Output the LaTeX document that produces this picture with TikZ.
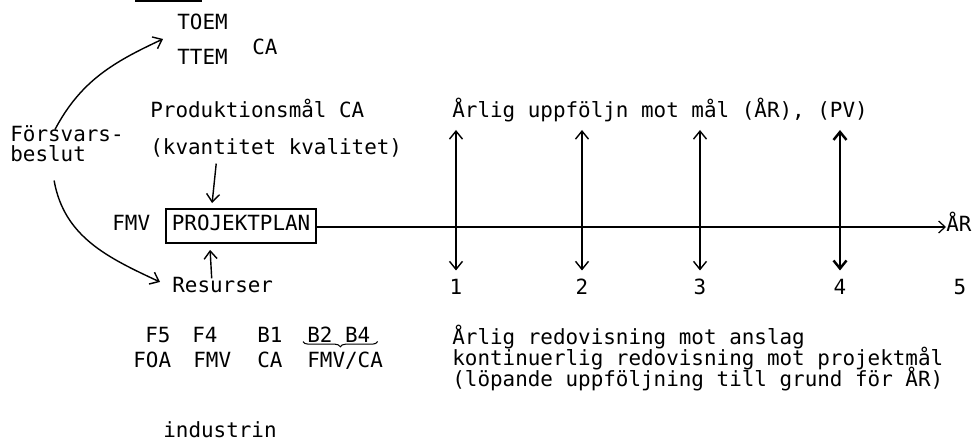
\documentclass[tikz,border=0pt]{standalone}
\usepackage{fontspec}
\newfontfamily\typew{DejaVu Sans Mono}
\usepackage{tikz}
\usetikzlibrary{arrows.meta, positioning, decorations.pathreplacing}

\tikzset{
  txt/.style={font=\typew\fontsize{11.9}{14}\selectfont, inner sep=0pt, anchor=west,
              text height=1.6ex, text depth=0.3ex},
  arr/.style={-{Straight Barb[length=1.6mm,width=2.6mm]}, line width=0.8pt},
  dbl/.style={{Straight Barb[length=1.6mm,width=2.6mm]}-{Straight Barb[length=1.6mm,width=2.6mm]},
              line width=0.8pt},
  axis/.style={-{Straight Barb[length=1.3mm,width=2.4mm]}, line width=0.7pt},
  planbox/.style={txt, draw, line width=1pt, inner xsep=0.12cm, minimum height=0.68cm},
}

\begin{document}
\begin{tikzpicture}[x=0.02cm, y=-0.02cm]
  \useasboundingbox (0,0) rectangle (977,448);
  \draw[line width=0.7pt] (135,1) -- (202,1);

  % left side
  \node[txt] (toem) at (177,25) {TOEM};
  \node[txt] (ttem) at (177,60) {TTEM};
  \node[txt] (ca) at (252,50) {CA};
  \node[txt] (prod) at (150,113) {Produktionsmål CA};
  \node[txt] (kval) at (150,150) {(kvantitet kvalitet)};
  \node[txt] (fors) at (10,137) {Försvars-};
  \node[txt] (besl) at (10,157) {beslut};
  \node[txt] (fmv) at (112,226) {FMV};
  \node[planbox] (plan) at (165,226) {PROJEKTPLAN};
  \node[txt] (res) at (172,288) {Resurser};

  \node[txt] (f5) at (145,338) {F5};
  \node[txt] (f4) at (192,338) {F4};
  \node[txt] (b1) at (257,338) {B1};
  \node[txt] (b24) at (307,338) {B2 B4};
  \node[txt] (foa) at (133,363) {FOA};
  \node[txt] (fmvb) at (193,363) {FMV};
  \node[txt] (cab) at (257,363) {CA};
  \node[txt] (fmvca) at (307,363) {FMV/CA};
  \node[txt] (ind) at (163,433) {industrin};

  \draw[arr] ([shift={(-12,0)}]fors.north) to[out=62,in=205] ([shift={(-14,-21)}]ttem.west);
  \draw[arr] ([shift={(6,16)}]besl.south) to[out=-80,in=155] ([shift={(-12,-6)}]res.west);
  \draw[arr] ([shift={(-60,6)}]kval.south) -- ([shift={(-29,-5)}]plan.north);
  \draw[arr] ([shift={(-11,-2)}]res.north) -- ([shift={(-31,6)}]plan.south);
  \draw[decorate, decoration={brace, mirror, amplitude=3pt}, line width=0.6pt]
    ([shift={(-4,-4)}]b24.south west) -- ([shift={(7,-4)}]b24.south east);

  % time axis
  \node[txt] (ar) at (946,227) {ÅR};
  \draw[axis] (plan.east |- ar.west) -- (ar.west);

  \node[txt] (uppf) at (452,113) {Årlig uppföljn mot mål (ÅR), (PV)};
  \foreach \i/\x/\w in {1/456/0.8pt, 2/582/0.8pt, 3/700/0.8pt, 4/840/1.4pt}{
    \node[txt, anchor=center] (n\i) at (\x,290) {\i};
    \coordinate (u\i) at (\x,130);
    \draw[dbl, line width=\w] (u\i) -- ([shift={(0,-12)}]n\i.north);
  }
  \node[txt, anchor=center] (n5) at (960,290) {5};

  \node[txt] (redo) at (452,340) {Årlig redovisning mot anslag};
  \node[txt] (kont) at (452,361) {kontinuerlig redovisning mot projektmål};
  \node[txt] (lop) at (452,382) {(löpande uppföljning till grund för ÅR)};
\end{tikzpicture}
\end{document}
